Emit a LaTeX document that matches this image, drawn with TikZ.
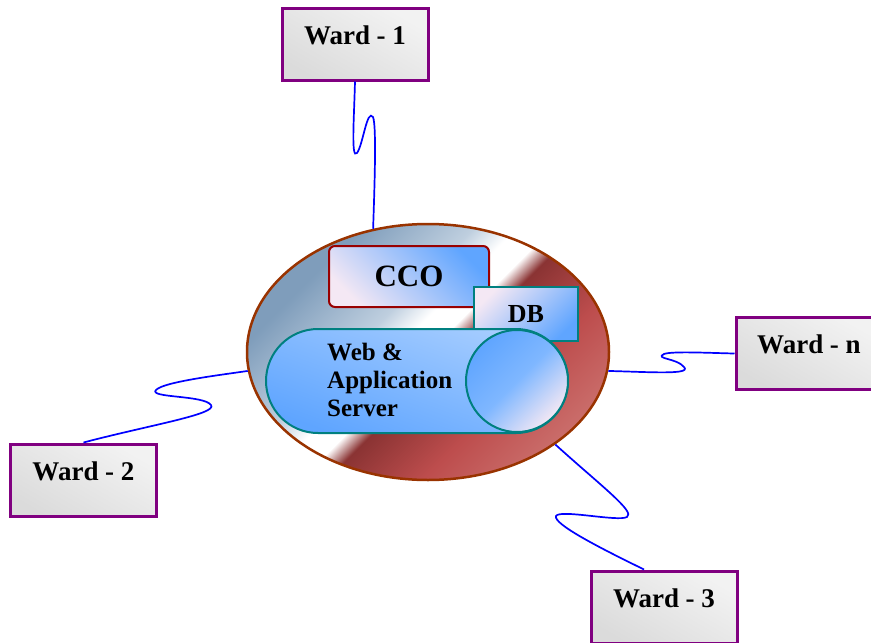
\documentclass[tikz,border=0pt]{standalone}
\usepackage{fontspec}
\setmainfont{Liberation Serif}
\usetikzlibrary{shapes.geometric, shapes.misc}

\definecolor{wardpurple}{HTML}{800080}
\definecolor{hubbrown}{HTML}{993300}
\definecolor{ccored}{HTML}{990000}
\definecolor{srvteal}{HTML}{008080}
\definecolor{linkblue}{HTML}{0000FF}
\definecolor{hubblue}{HTML}{7F9DBB}
\definecolor{hubsky}{HTML}{BFCFDF}
\definecolor{hubdark}{HTML}{8A3333}
\definecolor{hubred}{HTML}{BD4D4D}
\definecolor{hubpink}{HTML}{E6B2AA}
\definecolor{boxblue}{HTML}{5FA5FF}
\definecolor{boxpale}{HTML}{F4E8F4}

\pgfdeclarehorizontalshading{hubshade}{100bp}{color(0bp)=(hubblue); color(28bp)=(hubblue);
  color(41bp)=(hubsky); color(46bp)=(white); color(50bp)=(white); color(53bp)=(hubdark);
  color(64bp)=(hubred); color(100bp)=(hubpink)}

\tikzset{
  ward/.style={draw=wardpurple, line width=3pt, minimum width=146pt, minimum height=72pt,
    inner sep=0pt, top color=gray!10, bottom color=gray!28, shading angle=-30,
    font=\fontsize{27}{30}\selectfont\bfseries, text height=18pt, text depth=18pt},
  hub/.style={ellipse, draw=hubbrown, line width=2.5pt, minimum width=362pt, minimum height=256pt,
    inner sep=0pt, shading=hubshade, shading angle=-45},
  ccobox/.style={draw=ccored, line width=2pt, rounded corners=6pt, minimum width=160pt,
    minimum height=61pt, top color=boxblue, bottom color=boxpale, shading angle=-45,
    font=\fontsize{31}{34}\selectfont\bfseries},
  dbbox/.style={draw=srvteal, line width=2pt, minimum width=104pt, minimum height=54pt,
    top color=boxblue, bottom color=boxpale, shading angle=-135,
    font=\fontsize{26}{28}\selectfont\bfseries},
  srvbody/.style={rounded rectangle, draw=srvteal, line width=2pt, minimum width=302pt,
    minimum height=104pt, inner sep=0pt, top color=boxblue!55!white, bottom color=boxblue,
    shading angle=-20},
  srvend/.style={circle, draw=srvteal, line width=2pt, minimum size=102pt, inner sep=0pt,
    top color=boxpale, bottom color=boxblue, middle color=boxblue!80!white, shading angle=-135},
  srvtext/.style={align=left, inner sep=0pt, anchor=north west,
    font=\fontsize{25}{28}\selectfont\bfseries},
  link/.style={draw=linkblue, line width=1.7pt}
}

\begin{document}
\begin{tikzpicture}[x=1pt, y=-1pt]
\clip (0,0) rectangle (871,643);

% centre
\node[hub] (hub) at (428,352) {};
\node[ccobox] (cco) at (409,276.5) {CCO};
\node[dbbox] (db) at (526,314) {DB};
\node[srvbody] (srv) at (417,381) {};
\node[srvend] (srvend) at (517,381) {};
\node[srvtext] (srvlbl) at (327,343) {Web \&\\Application\\Server};

% wards
\node[ward] (w1) at (355,44) {Ward - 1};
\node[ward] (w2) at (83.5,480) {Ward - 2};
\node[ward] (w3) at (664,607) {Ward - 3};
\node[ward] (wn) at (809,353.5) {Ward - n};

% links
\draw[link] (w1.south) .. controls (354,120) and (351,160) .. (357,153)
  .. controls (363,145) and (367,108) .. (373,117)
  .. controls (377,126) and (374,200) .. (hub.114);
\draw[link] (w2.north) .. controls (150,425) and (218,414) .. (211,405)
  .. controls (204,395) and (148,398) .. (156,390)
  .. controls (163,382) and (220,375) .. (hub.186);
\draw[link] (hub.-6) .. controls (650,372) and (692,375) .. (684,367)
  .. controls (677,358) and (654,359) .. (664,354)
  .. controls (672,351) and (710,353) .. (wn.west);
\draw[link] (hub.-36) .. controls (600,485) and (636,512) .. (627,517)
  .. controls (618,522) and (560,509) .. (556,516)
  .. controls (553,524) and (600,548) .. (w3.118);
\end{tikzpicture}
\end{document}
